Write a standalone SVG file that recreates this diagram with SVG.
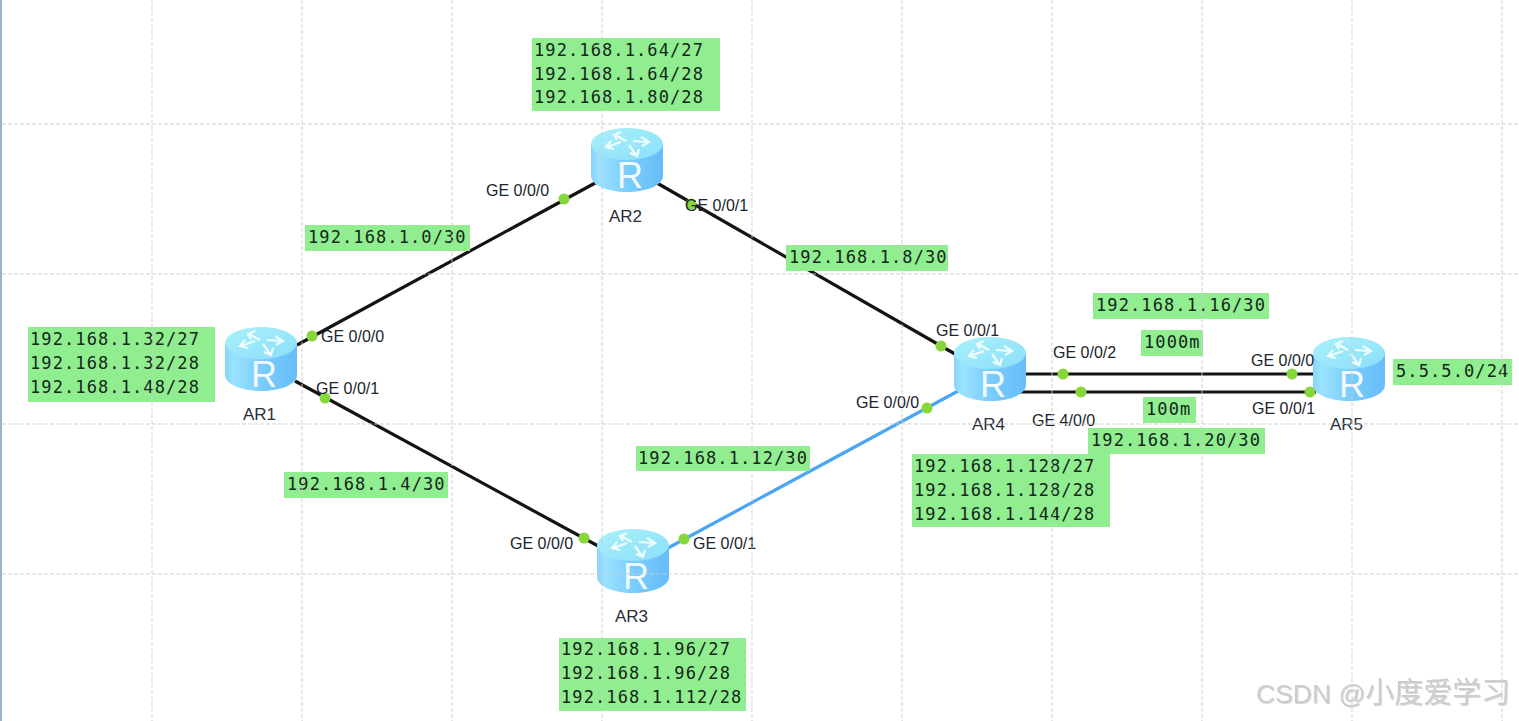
<svg xmlns="http://www.w3.org/2000/svg" width="1519" height="721" viewBox="0 0 1519 721">
  <style>
    .grid { stroke: #cbcbcb; stroke-width: 1; stroke-dasharray: 4 2; fill: none; opacity: 0.9; }
    .link { stroke: #141414; stroke-width: 3.2; fill: none; }
    .link-up { stroke: #4aa5f5; stroke-width: 3.2; fill: none; }
    .dot { fill: #86d83a; }
    .note { fill: #90ee90; }
    .addr { font-family: "DejaVu Sans Mono", monospace; font-size: 17px; letter-spacing: 1.1px; fill: #14261a; }
    .port { font-family: "Liberation Sans", Arial, sans-serif; font-size: 16px; fill: #20242c; }
    .name { font-family: "Liberation Sans", Arial, sans-serif; font-size: 17px; fill: #2a2e3a; }
    .mark { font-family: "Liberation Sans", "Noto Sans CJK SC", sans-serif; fill: #cdcdcd; }
  </style>
  <defs>
    <linearGradient id="body" x1="0" y1="0" x2="1" y2="0">
      <stop offset="0" stop-color="#86d4fc"/>
      <stop offset="0.12" stop-color="#9be2ff"/>
      <stop offset="0.5" stop-color="#7acdfc"/>
      <stop offset="1" stop-color="#66bdf8"/>
    </linearGradient>
    <linearGradient id="lid" x1="0" y1="0" x2="1" y2="1">
      <stop offset="0" stop-color="#aaf0fb"/>
      <stop offset="1" stop-color="#8adffa"/>
    </linearGradient>
    <filter id="emboss" x="-5%" y="-20%" width="110%" height="140%">
      <feDropShadow dx="1" dy="1" stdDeviation="0.6" flood-color="#b0b0b0" flood-opacity="0.5"/>
    </filter>
    <g id="router">
      <path d="M0 16 V48 C0 57 16 64 36 64 C56 64 72 57 72 48 V16 Z" fill="url(#body)"/>
      <ellipse cx="36" cy="16" rx="36" ry="16" fill="url(#lid)"/>
      <g fill="none" stroke="#f0fdff" stroke-width="2.2">
        <path d="M30 4 L23 7 L26 12 M24 7 L35 13"/>
        <path d="M20 13 L15 19 L23 21 M16 19 L30 14"/>
        <path d="M50 9 L58 14 L51 18 M57 14 L42 13"/>
        <path d="M48 21 L46 28 L39 25 M45 27 L38 17"/>
      </g>
      <text x="39" y="60" text-anchor="middle" font-family="Liberation Sans, Arial, sans-serif" font-size="36" fill="#f2fbff">R</text>
    </g>
  </defs>

  <rect width="1519" height="721" fill="#ffffff"/>
  <rect x="0" y="0" width="2" height="721" fill="#9db2c9"/>

  <g id="connectors">
    <path class="link" d="M297 345L597 182"/>
    <path class="link" d="M295 381L600 547"/>
    <path class="link" d="M657 183L962 358"/>
    <path class="link-up" d="M668 548L960 390"/>
    <path class="link" d="M1024 374H1315"/>
    <path class="link" d="M1020 392H1316"/>
  </g>

  <g id="AR1"><use href="#router" x="225" y="327"/><text class="name" x="243" y="420">AR1</text></g>
  <g id="AR2"><use href="#router" x="591" y="128"/><text class="name" x="609" y="222">AR2</text></g>
  <g id="AR3"><use href="#router" x="597" y="529"/><text class="name" x="615" y="622">AR3</text></g>
  <g id="AR4"><use href="#router" x="954" y="337"/><text class="name" x="972" y="430">AR4</text></g>
  <g id="AR5"><use href="#router" x="1313" y="337"/><text class="name" x="1330" y="430">AR5</text></g>

  <g id="ports">
    <circle class="dot" cx="312" cy="336" r="5.5"/>
    <circle class="dot" cx="325" cy="398" r="5.5"/>
    <circle class="dot" cx="564" cy="199" r="5.5"/>
    <circle class="dot" cx="691" cy="204" r="5.5"/>
    <circle class="dot" cx="584" cy="538" r="5.5"/>
    <circle class="dot" cx="684" cy="539" r="5.5"/>
    <circle class="dot" cx="941" cy="346" r="5.5"/>
    <circle class="dot" cx="927" cy="408" r="5.5"/>
    <circle class="dot" cx="1063" cy="374" r="5.5"/>
    <circle class="dot" cx="1081" cy="392" r="5.5"/>
    <circle class="dot" cx="1292" cy="374" r="5.5"/>
    <circle class="dot" cx="1310" cy="392" r="5.5"/>
    <text class="port" x="321" y="342">GE 0/0/0</text>
    <text class="port" x="316" y="394">GE 0/0/1</text>
    <text class="port" x="486" y="196">GE 0/0/0</text>
    <text class="port" x="685" y="211">GE 0/0/1</text>
    <text class="port" x="510" y="549">GE 0/0/0</text>
    <text class="port" x="693" y="549">GE 0/0/1</text>
    <text class="port" x="936" y="336">GE 0/0/1</text>
    <text class="port" x="856" y="408">GE 0/0/0</text>
    <text class="port" x="1053" y="358">GE 0/0/2</text>
    <text class="port" x="1032" y="426">GE 4/0/0</text>
    <text class="port" x="1251" y="366">GE 0/0/0</text>
    <text class="port" x="1252" y="414">GE 0/0/1</text>
  </g>

  <g id="notes">
    <g id="net-ar1"><rect class="note" x="28" y="327" width="187" height="75"/>
      <text class="addr" x="30" y="345">192.168.1.32/27</text><text class="addr" x="30" y="369">192.168.1.32/28</text><text class="addr" x="30" y="393">192.168.1.48/28</text></g>
    <g id="net-ar2"><rect class="note" x="532" y="38" width="188" height="73"/>
      <text class="addr" x="534" y="56">192.168.1.64/27</text><text class="addr" x="534" y="80">192.168.1.64/28</text><text class="addr" x="534" y="103">192.168.1.80/28</text></g>
    <g id="net-ar3"><rect class="note" x="559" y="638" width="187" height="73"/>
      <text class="addr" x="561" y="655">192.168.1.96/27</text><text class="addr" x="561" y="679">192.168.1.96/28</text><text class="addr" x="561" y="703">192.168.1.112/28</text></g>
    <g id="net-ar4"><rect class="note" x="912" y="454" width="198" height="73"/>
      <text class="addr" x="914" y="472">192.168.1.128/27</text><text class="addr" x="914" y="496">192.168.1.128/28</text><text class="addr" x="914" y="520">192.168.1.144/28</text></g>
    <g id="link-ar1-ar2"><rect class="note" x="305" y="225" width="165" height="26"/><text class="addr" x="308" y="243">192.168.1.0/30</text></g>
    <g id="link-ar2-ar4"><rect class="note" x="786" y="245" width="162" height="26"/><text class="addr" x="789" y="263">192.168.1.8/30</text></g>
    <g id="link-ar1-ar3"><rect class="note" x="284" y="472" width="164" height="26"/><text class="addr" x="287" y="490">192.168.1.4/30</text></g>
    <g id="link-ar3-ar4"><rect class="note" x="636" y="446" width="174" height="25"/><text class="addr" x="638" y="464">192.168.1.12/30</text></g>
    <g id="link-ar4-ar5-a"><rect class="note" x="1093" y="293" width="176" height="26"/><text class="addr" x="1096" y="311">192.168.1.16/30</text></g>
    <g id="speed-a"><rect class="note" x="1141" y="330" width="62" height="26"/><text class="addr" x="1144" y="348">1000m</text></g>
    <g id="speed-b"><rect class="note" x="1143" y="397" width="53" height="26"/><text class="addr" x="1146" y="415">100m</text></g>
    <g id="link-ar4-ar5-b"><rect class="note" x="1088" y="428" width="177" height="26"/><text class="addr" x="1091" y="446">192.168.1.20/30</text></g>
    <g id="net-ar5"><rect class="note" x="1393" y="359" width="119" height="26"/><text class="addr" x="1396" y="377">5.5.5.0/24</text></g>
  </g>

  <!-- the canvas grid lies over every element -->
  <g id="grid">
    <path class="grid" d="M152 0V721M302 0V721M452 0V721M602 0V721M752 0V721M902 0V721M1052 0V721M1202 0V721M1352 0V721M1502 0V721"/>
    <path class="grid" d="M2 124H1519M2 274H1519M2 424H1519M2 574H1519"/>
  </g>

  <text class="mark" x="1256" y="703" filter="url(#emboss)"><tspan font-size="26.5">CSDN @</tspan><tspan font-size="29">小度爱学习</tspan></text>
</svg>
